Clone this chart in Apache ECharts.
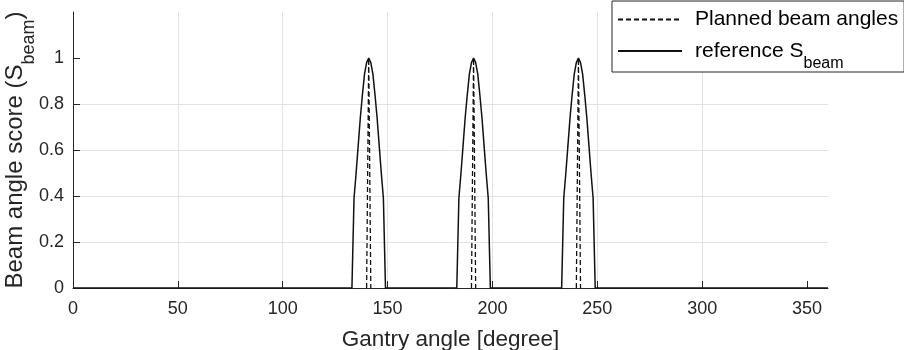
<!DOCTYPE html>
<html>
<head>
<meta charset="utf-8">
<title>Beam angle score</title>
<script src="https://cdn.jsdelivr.net/npm/echarts@6/dist/echarts.min.js"></script>
<style>
  html, body { margin: 0; padding: 0; background: #fff; }
  #chart { width: 904px; height: 350px; }
</style>
</head>
<body>
<div id="chart"></div>
<script>
// axis ticks
var xTicks = [0, 50, 100, 150, 200, 250, 300, 350];
var yTicks = [0, 0.2, 0.4, 0.6, 0.8, 1];

// dashed: planned beam angles, one small triangle per beam [gantry angle, score]
var plannedBeams = [
  [[140, 0], [141, 1], [142, 0]],
  [[190, 0], [191, 1], [192, 0]],
  [[240, 0], [241, 1], [242, 0]]
];

// solid: reference S_beam
var referenceScore = [
  [0, 0],
  [133, 0], [134, 0.39], [135, 0.5], [136, 0.62], [137, 0.74], [138, 0.84], [139, 0.93], [140, 0.98],
  [141, 1],
  [142, 0.98], [143, 0.93], [144, 0.84], [145, 0.74], [146, 0.62], [147, 0.5], [148, 0.39], [149, 0],
  [183, 0], [184, 0.39], [185, 0.5], [186, 0.62], [187, 0.74], [188, 0.84], [189, 0.93], [190, 0.98],
  [191, 1],
  [192, 0.98], [193, 0.93], [194, 0.84], [195, 0.74], [196, 0.62], [197, 0.5], [198, 0.39], [199, 0],
  [233, 0], [234, 0.39], [235, 0.5], [236, 0.62], [237, 0.74], [238, 0.84], [239, 0.93], [240, 0.98],
  [241, 1],
  [242, 0.98], [243, 0.93], [244, 0.84], [245, 0.74], [246, 0.62], [247, 0.5], [248, 0.39], [249, 0],
  [360, 0]
];

var FONT = '"Liberation Sans", Arial, Helvetica, sans-serif';
var AXIS_COLOR = '#262626';
var GRID_COLOR = '#e3e3e3';
var LINE_COLOR = '#111';
var PLANNED = 'Planned beam angles';
var REFERENCE = 'reference S_beam';

// subscript: main text is centred in a tall line, "beam" sits lower
function subRich(mainSize, subSize, color) {
  return {
    m: { fontFamily: FONT, fontSize: mainSize, lineHeight: 42, color: color },
    sub: {
      fontFamily: FONT,
      fontSize: subSize,
      lineHeight: subSize,
      color: color,
      verticalAlign: 'top',
      padding: [26, 0, 0, 0]
    }
  };
}

var chart = echarts.init(document.getElementById('chart'), null, { renderer: 'canvas' });

var series = [];
plannedBeams.forEach(function (beam) {
  series.push({
    name: PLANNED,
    type: 'line',
    data: beam,
    symbol: 'none',
    showSymbol: false,
    lineStyle: { color: LINE_COLOR, width: 1.3, type: [5, 3] },
    itemStyle: { color: LINE_COLOR },
    z: 3
  });
});
series.push({
  name: REFERENCE,
  type: 'line',
  data: referenceScore,
  symbol: 'none',
  showSymbol: false,
  lineStyle: { color: LINE_COLOR, width: 1.5, type: 'solid' },
  itemStyle: { color: LINE_COLOR },
  z: 4
});

var option = {
  backgroundColor: '#fff',
  animation: false,
  grid: {
    left: 73,
    right: 76,
    top: 12,
    bottom: 62,
    outerBoundsMode: 'none'
  },
  legend: {
    orient: 'vertical',
    left: 612,
    top: 1,
    padding: [8, 6, 0, 5],
    itemWidth: 64,
    itemHeight: 14,
    itemGap: 0,
    borderColor: AXIS_COLOR,
    borderWidth: 1,
    borderRadius: 0,
    backgroundColor: '#fff',
    itemStyle: { opacity: 0 },
    data: [PLANNED, REFERENCE],
    formatter: function (name) {
      return name === REFERENCE ? '{m|reference S}{sub|beam}' : name;
    },
    textStyle: {
      fontFamily: FONT,
      fontSize: 21,
      color: '#000',
      padding: [0, 0, 0, 8],
      rich: subRich(21, 16, '#000')
    }
  },
  xAxis: {
    type: 'value',
    min: 0,
    max: 360,
    name: 'Gantry angle [degree]',
    nameLocation: 'middle',
    nameGap: 40,
    nameMoveOverlap: false,
    nameTextStyle: { fontFamily: FONT, fontSize: 22.5, color: AXIS_COLOR },
    axisLine: { show: true, onZero: false, lineStyle: { color: AXIS_COLOR, width: 1 } },
    axisTick: { show: true, inside: true, length: 7, customValues: xTicks, lineStyle: { color: AXIS_COLOR } },
    axisLabel: { customValues: xTicks, margin: 12, fontFamily: FONT, fontSize: 18, color: AXIS_COLOR },
    splitLine: { show: true, showMinLine: false, showMaxLine: false, lineStyle: { color: GRID_COLOR, width: 1 } }
  },
  yAxis: {
    type: 'value',
    min: 0,
    max: 1.2,
    name: '{m|Beam angle score (S}{sub|beam}{m|)}',
    nameLocation: 'middle',
    nameRotate: 90,
    nameGap: 37,
    nameMoveOverlap: false,
    nameTextStyle: {
      fontFamily: FONT,
      fontSize: 24,
      color: AXIS_COLOR,
      rich: subRich(24, 18, AXIS_COLOR)
    },
    axisLine: { show: true, onZero: false, lineStyle: { color: AXIS_COLOR, width: 1 } },
    axisTick: { show: true, inside: true, length: 7, customValues: yTicks, lineStyle: { color: AXIS_COLOR } },
    axisLabel: { customValues: yTicks, margin: 9, fontFamily: FONT, fontSize: 18, color: AXIS_COLOR },
    splitLine: { show: true, showMinLine: false, showMaxLine: false, lineStyle: { color: GRID_COLOR, width: 1 } }
  },
  series: series
};

chart.setOption(option);
</script>
</body>
</html>
